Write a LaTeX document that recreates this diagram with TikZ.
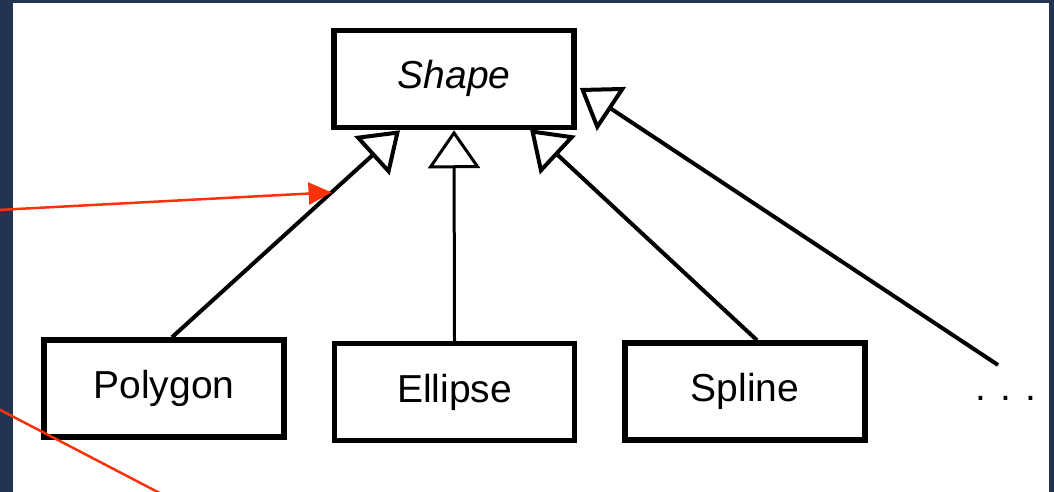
\documentclass[tikz,border=0pt]{standalone}
\usepackage{fontspec}
\setmainfont{Liberation Sans}
\usepackage{tikz}
\usetikzlibrary{arrows.meta,calc}
\definecolor{slide}{RGB}{34,52,80}
\definecolor{pointer}{RGB}{250,50,10}

\begin{document}
\begin{tikzpicture}[
    x=1pt, y=-1pt,
    txt/.style={font=\fontsize{39}{44}\selectfont, text height=28pt, text depth=8pt},
    cls/.style={txt, rectangle, draw=black, fill=white, line width=5.5pt,
                minimum width=240pt, minimum height=97pt, align=center},
    gen/.style={line width=4pt, -{Triangle[open, length=38pt, width=52pt]}},
    hint/.style={draw=pointer, line width=2.5pt}
]
    % Slide background
    \useasboundingbox (0,0) rectangle (1054,492);
    \clip (0,0) rectangle (1054,492);
    \fill[slide] (0,0) rectangle (1054,492);
    \fill[white] (13,3) rectangle (1049,492);

    % Classes
    \node[cls] (shp) at (454, 79) {\itshape Shape};
    \node[cls] (poly) at (164, 388.5) {Polygon};
    \node[cls] (ell) at (454.5, 392) {Ellipse};
    \node[cls] (spl) at (745, 391.5) {Spline};
    \node[txt] (more) at (1006, 390) {. . .};
    \coordinate (moreend) at (998, 365);

    % Generalisations
    \draw[gen] ($(poly.north)+(8,0)$) -- coordinate[pos=0.7] (hit) ($(shp.south)+(-54,0)$);
    \draw[gen, line width=3pt] (ell.north) -- (shp.south);
    \draw[gen] ($(spl.north)+(12,0)$) -- ($(shp.south)+(76,-1)$);
    \draw[gen] (moreend) -- ($(shp.east)+(3,9)$);

    % Pointers from the slide
    \coordinate (src1) at (-40, 212);
    \coordinate (src2) at (-40, 389);
    \coordinate (dst2) at (200, 514);
    \draw[hint, -{Triangle[length=23pt, width=22pt]}] (src1) -- (hit);
    \draw[hint] (src2) -- (dst2);
\end{tikzpicture}
\end{document}
